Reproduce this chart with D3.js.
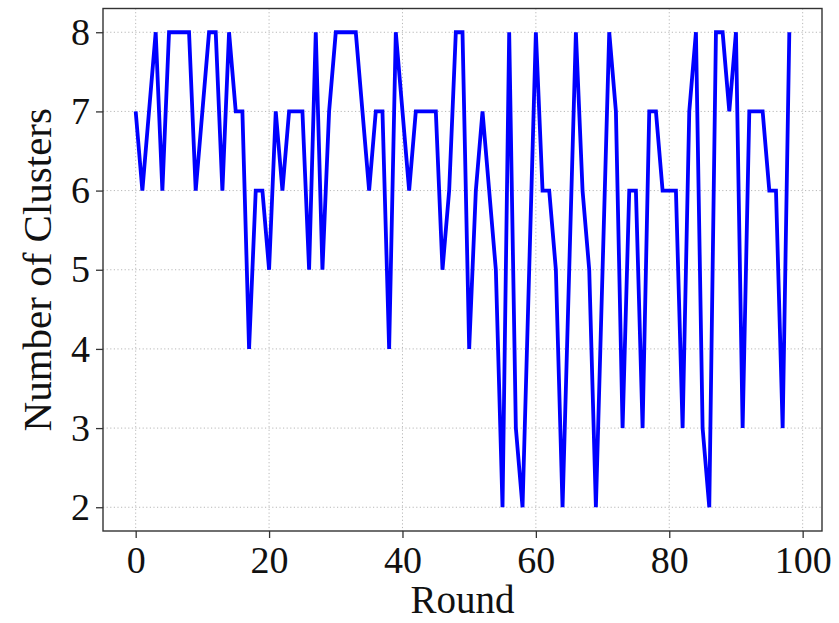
<!DOCTYPE html>
<html>
<head>
<meta charset="utf-8">
<script src="https://cdn.jsdelivr.net/npm/d3@7"></script>
<style>
  html, body { margin: 0; padding: 0; background: #fff; }
  svg { display: block; }
  text { font-family: "Liberation Serif", "Times New Roman", serif; fill: #111; }
</style>
</head>
<body>
<svg id="chart" width="839" height="623"></svg>
<script>
// Number of clusters found at each training round (round = array index)
const clusters = [
  7, 6, 7, 8, 6, 8, 8, 8, 8, 6,
  7, 8, 8, 6, 8, 7, 7, 4, 6, 6,
  5, 7, 6, 7, 7, 7, 5, 8, 5, 7,
  8, 8, 8, 8, 7, 6, 7, 7, 4, 8,
  7, 6, 7, 7, 7, 7, 5, 6, 8, 8,
  4, 6, 7, 6, 5, 2, 8, 3, 2, 5,
  8, 6, 6, 5, 2, 5, 8, 6, 5, 2,
  5, 8, 7, 3, 6, 6, 3, 7, 7, 6,
  6, 6, 3, 7, 8, 3, 2, 8, 8, 7,
  8, 3, 7, 7, 7, 6, 6, 3, 8
];
const xTicks = [0, 20, 40, 60, 80, 100];
const yTicks = [2, 3, 4, 5, 6, 7, 8];
const xTitle = "Round";
const yTitle = "Number of Clusters";

const svg = d3.select("#chart");
const plot = { left: 103, right: 822, top: 8.5, bottom: 531 };

const n = clusters.length - 1;
const xPad = n * 0.05;
const x = d3.scaleLinear().domain([-xPad, n + xPad]).range([plot.left, plot.right]);
const yMin = d3.min(clusters), yMax = d3.max(clusters);
const yPad = (yMax - yMin) * 0.05;
const y = d3.scaleLinear().domain([yMin - yPad, yMax + yPad]).range([plot.bottom, plot.top]);

// Dotted grid
const grid = svg.append("g").attr("stroke", "#b8b8b8").attr("stroke-width", 1)
  .attr("stroke-dasharray", "1.2,2.4");
grid.selectAll("line.gx").data(xTicks).join("line")
  .attr("x1", d => x(d)).attr("x2", d => x(d))
  .attr("y1", plot.top).attr("y2", plot.bottom);
grid.selectAll("line.gy").data(yTicks).join("line")
  .attr("x1", plot.left).attr("x2", plot.right)
  .attr("y1", d => y(d)).attr("y2", d => y(d));

// Series
const line = d3.line().x((d, i) => x(i)).y(d => y(d));
svg.append("path").datum(clusters)
  .attr("fill", "none").attr("stroke", "#0000ff")
  .attr("stroke-width", 3.8).attr("stroke-linejoin", "miter")
  .attr("d", line);

// Frame
svg.append("rect")
  .attr("x", plot.left).attr("y", plot.top)
  .attr("width", plot.right - plot.left).attr("height", plot.bottom - plot.top)
  .attr("fill", "none").attr("stroke", "#333").attr("stroke-width", 1.4);

// Axes
const xAxis = svg.append("g").attr("transform", `translate(0,${plot.bottom})`)
  .call(d3.axisBottom(x).tickValues(xTicks).tickSize(7).tickPadding(5).tickFormat(d3.format("d")));
const yAxis = svg.append("g").attr("transform", `translate(${plot.left},0)`)
  .call(d3.axisLeft(y).tickValues(yTicks).tickSize(7).tickPadding(6).tickFormat(d3.format("d")));
[xAxis, yAxis].forEach(a => {
  a.select(".domain").remove();
  a.selectAll(".tick line").attr("stroke", "#333").attr("stroke-width", 1.3);
  a.selectAll(".tick text").attr("font-family", "Liberation Serif, serif")
    .attr("font-size", 38).attr("fill", "#111");
});
xAxis.selectAll(".tick text").attr("dy", "0.78em");

// Titles
svg.append("text").attr("x", (plot.left + plot.right) / 2).attr("y", 613)
  .attr("text-anchor", "middle").attr("font-size", 39).text(xTitle);
svg.append("text")
  .attr("transform", `translate(51,${(plot.top + plot.bottom) / 2}) rotate(-90)`)
  .attr("text-anchor", "middle").attr("font-size", 41).text(yTitle);
</script>
</body>
</html>
